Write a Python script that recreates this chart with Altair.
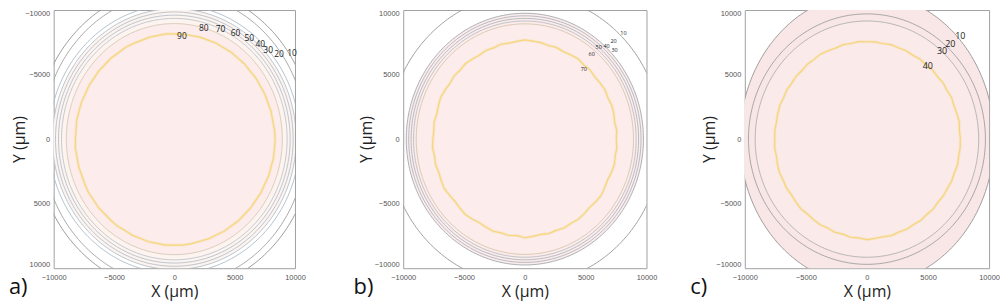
import altair as alt
import numpy as np
import pandas as pd

TICKS = [-10000, -5000, 0, 5000, 10000]

# ---------------- panel a ----------------
a_levels = ["10", "20", "30", "40", "50", "60", "70", "80"]
a_rx = [11500, 10950, 10400, 10100, 9850, 9600, 9350, 8950]
a_ry = [11800, 11300, 10400, 10100, 9850, 9600, 9350, 8950]
a_colors = ["#929292", "#a0a0a0", "#adbac7", "#b3c0cd", "#b3c0cd", "#b3c0cd", "#bcc6d0", "#d6cab8"]
a_yellow_level = "90"
a_yellow_r = [8360, 8330, 8350, 8300, 8320, 8270, 8290, 8250, 8270, 8230,
              8260, 8210, 8240, 8200, 8230, 8190, 8220, 8240, 8210, 8250,
              8200, 8230, 8190, 8220, 8180, 8230, 8200, 8180, 8220, 8190,
              8230, 8200, 8170, 8210, 8190, 8230, 8200, 8180, 8220, 8190,
              8210, 8170, 8200, 8160, 8190, 8150, 8180, 8140, 8170, 8150,
              8120, 8160, 8140, 8180, 8150, 8170, 8140, 8180, 8160, 8200,
              8170, 8210, 8190, 8230, 8200, 8250, 8230, 8270, 8250, 8300,
              8280, 8330]
a_label_text = ["90", "80", "70", "60", "50", "40", "30", "20", "10"]
a_label_x = [629, 2437, 3835, 5068, 6219, 7123, 7781, 8685, 9753]
a_label_y = [-8002, -8610, -8534, -8230, -7850, -7395, -6863, -6559, -6635]
a_fills = [(3, "#fdf3ef"), (7, "#fcecec")]  # (contour index, colour)

# ---------------- panel b ----------------
b_levels = ["10", "20", "30", "40", "50", "60"]
b_rx = [11250, 9750, 9550, 9350, 9150, 8930]
b_ry = [11250, 9750, 9550, 9350, 9150, 8930]
b_colors = ["#969696", "#a2a8ae", "#aeb6be", "#aeb6be", "#b8bec4", "#d6c6ac"]
b_yellow_level = "70"
b_yellow_r = [7520, 7580, 7500, 7570, 7610, 7540, 7620, 7560, 7500, 7580,
              7520, 7600, 7540, 7480, 7560, 7510, 7590, 7620, 7680, 7600,
              7550, 7610, 7520, 7580, 7500, 7560, 7620, 7540, 7600, 7520,
              7580, 7640, 7560, 7500, 7570, 7510, 7560, 7620, 7540, 7600,
              7530, 7590, 7650, 7570, 7500, 7560, 7620, 7550, 7480, 7540,
              7600, 7520, 7580, 7500, 7640, 7560, 7500, 7580, 7520, 7600,
              7540, 7610, 7560, 7500, 7580, 7640, 7560, 7500, 7570, 7620,
              7540, 7590]
b_label_text = ["10", "20", "30", "40", "50", "60", "70"]
b_label_x = [8103, 7288, 7370, 6718, 6067, 5497, 4845]
b_label_y = [8244, 7634, 6870, 7176, 7099, 6565, 5420]
b_fills = [(1, "#fcecec")]

# ---------------- panel c ----------------
c_levels = ["10", "20", "30"]
c_rx = [10400, 9700, 9150]
c_ry = [11300, 9700, 9150]
c_colors = ["#949494", "#a0a0a0", "#b0b0b0"]
c_yellow_level = "40"
c_yellow_r = [7650, 7600, 7680, 7620, 7580, 7640, 7560, 7610, 7540, 7590,
              7520, 7570, 7500, 7560, 7530, 7580, 7520, 7560, 7540, 7580,
              7520, 7570, 7500, 7550, 7600, 7540, 7580, 7520, 7570, 7530,
              7590, 7540, 7600, 7560, 7520, 7570, 7550, 7590, 7530, 7580,
              7620, 7560, 7600, 7540, 7590, 7640, 7580, 7620, 7660, 7600,
              7680, 7620, 7720, 7680, 7790, 7720, 7680, 7740, 7660, 7700,
              7640, 7690, 7620, 7670, 7600, 7650, 7610, 7660, 7620, 7680,
              7630, 7660]
c_label_text = ["10", "20", "30", "40"]
c_label_x = [7640, 6825, 6150, 4978]
c_label_y = [7965, 7355, 6852, 5678]
c_fills = [(0, "#f9e6e6"), (2, "#fbeaea")]

YELLOW = "#f3d46f"
H = 260


def contour_df(levels, rx, ry, colors):
    rows = []
    t = np.linspace(0, 2 * np.pi, 241)
    for lev, a, b, col in zip(levels, rx, ry, colors):
        for i, tt in enumerate(t):
            rows.append({"level": lev, "idx": i, "x": a * np.cos(tt), "y": b * np.sin(tt), "col": col})
    return pd.DataFrame(rows)


def fill_df(a, b):
    t = np.linspace(0, np.pi, 181)
    return pd.DataFrame({"x": a * np.cos(t), "y": b * np.sin(t), "y2": -b * np.sin(t)})


def yellow_df(radii):
    n = len(radii)
    rows = []
    for i in range(n + 1):
        r = radii[i % n]
        th = 2 * np.pi * (i % n) / n
        rows.append({"idx": i, "x": r * np.cos(th), "y": r * np.sin(th)})
    return pd.DataFrame(rows)


def panel(levels, rx, ry, colors, yr, lab_t, lab_x, lab_y, fills, letter, rev, w,
          lab_size, letter_dx, title_x):
    xs = alt.Scale(domain=[-10000, 10000], nice=False, zero=False)
    ys = alt.Scale(domain=[-10000, 10000], nice=False, zero=False, reverse=rev)
    xaxis = alt.Axis(title="X (µm)", values=TICKS, format="d", ticks=False, domain=False,
                     grid=False, labelFontSize=7.5, labelColor="#555555",
                     labelFont="Liberation Sans", labelPadding=5, labelFlush=False,
                     titleFontSize=16, titleFont="Open Sans", titleFontWeight="normal",
                     titleColor="#222222", titleY=24, titleBaseline="middle")
    yaxis = alt.Axis(title="Y (µm)", values=TICKS, format="d", ticks=False, domain=False,
                     grid=False, labelFontSize=7.5, labelColor="#555555",
                     labelFont="Liberation Sans", labelPadding=4, labelFlush=True,
                     titleFontSize=16, titleFont="Open Sans", titleFontWeight="normal",
                     titleColor="#222222", titleX=title_x, titleY=H / 2,
                     titleBaseline="middle")
    X = alt.X("x:Q", scale=xs, axis=xaxis)
    Y = alt.Y("y:Q", scale=ys, axis=yaxis)

    layers = []
    for idx, col in fills:
        layers.append(
            alt.Chart(fill_df(rx[idx], ry[idx])).mark_area(clip=True, color=col, opacity=1)
            .encode(x=X, y=Y, y2=alt.Y2("y2:Q"))
        )
    layers.append(
        alt.Chart(contour_df(levels, rx, ry, colors)).mark_line(clip=True, strokeWidth=0.9)
        .encode(x=X, y=Y, color=alt.Color("col:N", scale=None),
                detail="level:N", order=alt.Order("idx:Q"))
    )
    ydf = yellow_df(yr)
    layers.append(
        alt.Chart(ydf).mark_line(clip=True, strokeWidth=3, color=YELLOW, opacity=0.25)
        .encode(x=X, y=Y, order=alt.Order("idx:Q"))
    )
    layers.append(
        alt.Chart(ydf).mark_line(clip=True, strokeWidth=1.2, color=YELLOW, opacity=0.85)
        .encode(x=X, y=Y, order=alt.Order("idx:Q"))
    )
    layers.append(
        alt.Chart(pd.DataFrame({"x": lab_x, "y": lab_y, "t": lab_t}))
        .mark_text(font="Open Sans", fontSize=lab_size, color="#222222")
        .encode(x=X, y=Y, text="t:N")
    )
    layers.append(
        alt.Chart(pd.DataFrame({"t": [letter]}))
        .mark_text(font="Open Sans", fontSize=22, color="#111111", align="left",
                   baseline="alphabetic")
        .encode(x=alt.value(letter_dx), y=alt.value(H + 26), text="t:N")
    )
    return alt.layer(*layers).properties(width=w, height=H)


pa = panel(a_levels, a_rx, a_ry, a_colors, a_yellow_r, a_label_text, a_label_x, a_label_y,
           a_fills, "a)", True, 243, 8.5, -45, -34)
pb = panel(b_levels, b_rx, b_ry, b_colors, b_yellow_r, b_label_text, b_label_x, b_label_y,
           b_fills, "b)", False, 245, 5.5, -50, -37)
pc = panel(c_levels, c_rx, c_ry, c_colors, c_yellow_r, c_label_text, c_label_x, c_label_y,
           c_fills, "c)", False, 246, 9, -55, -36)

chart = (
    alt.hconcat(alt.hconcat(pa, pb, spacing=47), pc, spacing=32)
    .properties(padding={"left": 0, "top": 0, "right": 0, "bottom": 0})
    .configure_view(stroke="#a0a0a0", strokeWidth=1)
)

chart.save("out.html", embed_options={"renderer": "svg", "actions": False})
